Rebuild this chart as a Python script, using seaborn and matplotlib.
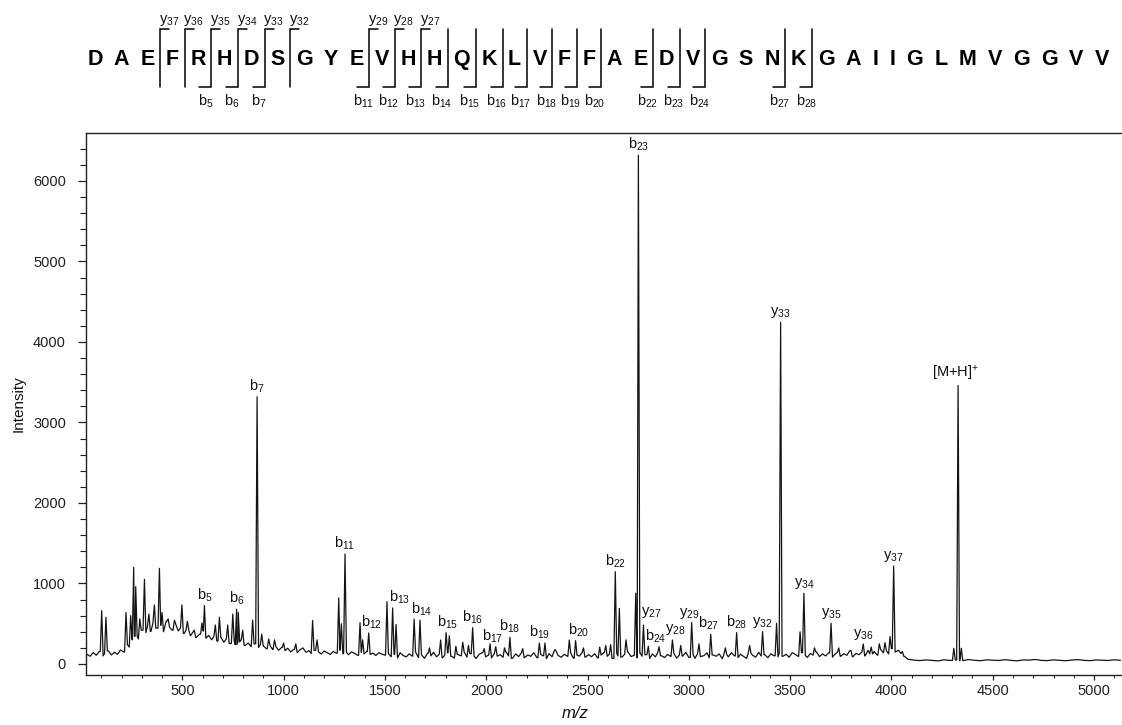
import numpy as np
import pandas as pd
import matplotlib
matplotlib.use("Agg")
import matplotlib.pyplot as plt
from matplotlib.ticker import MultipleLocator
from matplotlib.transforms import Affine2D
from matplotlib.lines import Line2D
import seaborn as sns

sns.set_theme(style="ticks")
plt.rcParams["font.family"] = ["Liberation Sans", "DejaVu Sans"]
plt.rcParams["mathtext.fontset"] = "custom"
plt.rcParams["mathtext.rm"] = "Liberation Sans"
plt.rcParams["mathtext.it"] = "Liberation Sans:italic"
plt.rcParams["mathtext.bf"] = "Liberation Sans:bold"

# ---------------------------------------------------------------- data
sequence = "DAEFRHDSGYEVHHQKLVFFAEDVGSNKGAIIGLMVGGVV"
b_ions = [5, 6, 7, 11, 12, 13, 14, 15, 16, 17, 18, 19, 20, 22, 23, 24, 27, 28]
y_ions = [37, 36, 35, 34, 33, 32, 29, 28, 27]

# annotated fragment peaks
ion_names = ["b5", "b6", "b7", "b11", "b12", "b13", "b14", "b15", "b16", "b17",
             "b18", "b19", "b20", "b22", "b23", "y27", "b24", "y28", "y29", "b27",
             "b28", "y32", "y33", "y34", "y35", "y36", "y37", "[M+H]+"]
ion_mz = [609, 768, 869, 1303, 1420, 1538, 1673, 1802, 1933, 2047,
          2117, 2262, 2441, 2637, 2751, 2776, 2853, 2919, 3014, 3108,
          3236, 3364, 3453, 3568, 3702, 3861, 4011, 4329]
ion_intensity = [725, 680, 3320, 1366, 385, 695, 545, 389, 451, 215,
                 331, 260, 290, 1147, 6320, 484, 215, 298, 513, 369,
                 389, 402, 4245, 878, 505, 248, 1217, 3460]

# unassigned peaks
other_mz = [102, 123, 222, 245, 260, 270, 290, 313, 335, 362, 387, 400, 430, 461,
            498, 525, 559, 597, 663, 683, 724, 749, 776, 798, 847, 892, 926, 955,
            1000, 1060, 1143, 1165, 1272, 1285, 1377, 1390, 1510, 1555, 1644, 1720,
            1775, 1818, 1850, 1884, 1912, 1990, 2019, 2090, 2180, 2290, 2340, 2410,
            2480, 2560, 2590, 2614, 2657, 2690, 2738, 2800, 2960, 3050, 3180, 3300,
            3433, 3549, 3620, 3740, 3800, 3900, 3940, 3968, 3993, 4054, 4308, 4345]
other_intensity = [662, 580, 640, 600, 1200, 960, 560, 1052, 620, 733, 1188, 640, 560, 545,
                   733, 530, 420, 510, 484, 580, 484, 620, 640, 420, 545, 370, 310, 300,
                   260, 250, 540, 300, 820, 500, 513, 300, 774, 490, 558, 200,
                   298, 350, 220, 270, 230, 190, 250, 200, 190, 260, 180, 298,
                   200, 210, 230, 240, 690, 300, 880, 220, 230, 250, 200, 230,
                   505, 400, 200, 200, 170, 210, 250, 265, 340, 155, 195, 195]

# baseline trace sampled every 15 m/z from 30 to 1005
base_a_start, base_a_step = 30, 15
base_a = [118, 96, 142, 108, 155, 100, 130, 162, 112, 145, 120,
          175, 150, 240, 210, 300, 345, 310,
          420, 390, 470, 405, 510, 445, 480, 400, 530, 455, 420, 490, 410,
          450, 380, 420, 350, 395, 330, 370, 410, 320, 355, 300, 345, 285, 330,
          270, 310, 255, 290, 240, 275, 300, 230, 260, 215, 250, 205, 240, 225,
          190, 230, 180, 215, 170, 205, 165]
# baseline trace sampled every 15 m/z from 1020 to 4065
base_b_start, base_b_step = 1020, 15
base_b = [195, 150, 180, 140, 175, 200, 145, 165, 130, 170,
          150, 125, 160, 140, 118, 155, 135, 170, 128, 145,
          115, 150, 132, 108, 145, 125, 155, 118, 135, 105,
          140, 122, 110,
          130, 92, 118, 75, 140, 105, 88, 125, 98, 150,
          82, 115, 70, 132, 100, 145, 90, 120, 78, 108,
          138, 95, 72, 118, 102, 150, 85, 128, 96, 68,
          120, 140, 88, 110, 75, 130, 98, 115, 82, 145,
          100, 70, 125, 92, 135, 80, 112, 95, 140, 78,
          118, 102, 66, 128, 90, 148, 105, 84, 120, 96,
          135, 72, 110, 98, 142, 86, 115,
          90, 128, 75, 110, 140, 95, 118, 70, 132, 100,
          85, 120, 150, 92, 108, 78, 135, 96, 115, 68,
          125, 88, 140, 102, 80, 118, 95, 130, 72, 110,
          98, 145, 82, 115, 70, 128, 92, 105, 138, 76,
          112, 96, 125, 65, 118, 88, 140, 100, 80, 122,
          94, 70, 130, 108, 85, 145, 98, 115, 78, 126,
          102, 88, 135, 96, 120, 84, 140,
          120, 95, 140, 105, 82, 130, 110, 150, 92, 125,
          100, 138, 85, 118, 145, 96, 128, 108, 160, 90,
          132, 115, 148, 100, 170, 125, 155, 110, 180, 140,
          165, 125, 190, 150, 170, 130, 95]
# baseline trace sampled every 30 m/z from 4080 to 5130
base_c_start, base_c_step = 4080, 30
base_c = [60, 48, 42, 50, 45, 38, 52, 44, 49, 41,
          55, 46, 40, 51, 47, 43, 53, 45, 39, 50,
          48, 56, 44, 42, 51, 46, 40, 49, 54, 45,
          41, 50, 47, 43, 52, 46]

x_ticks = [500, 1000, 1500, 2000, 2500, 3000, 3500, 4000, 4500, 5000]
y_ticks = [0, 1000, 2000, 3000, 4000, 5000, 6000]

# ---------------------------------------------------------------- trace
base_mz = np.concatenate([
    base_a_start + base_a_step * np.arange(len(base_a)),
    base_b_start + base_b_step * np.arange(len(base_b)),
    base_c_start + base_c_step * np.arange(len(base_c)),
]).astype(float)
base_int = np.array(base_a + base_b + base_c, dtype=float)

peak_mz = np.array(ion_mz + other_mz, dtype=float)
peak_int = np.array(ion_intensity + other_intensity, dtype=float)
HALF_WIDTH = 7.0

keep = np.array([np.all(np.abs(peak_mz - m) > HALF_WIDTH) for m in base_mz])


def foot_level(m):
    return base_int[np.abs(base_mz - m).argmin()]


xs = list(base_mz[keep])
ys = list(base_int[keep])
for m, h in zip(peak_mz, peak_int):
    xs += [m - HALF_WIDTH, m, m + HALF_WIDTH]
    ys += [foot_level(m - HALF_WIDTH), h, foot_level(m + HALF_WIDTH)]
order = np.argsort(np.array(xs), kind="stable")
spectrum = pd.DataFrame({"mz": np.array(xs)[order], "intensity": np.array(ys)[order]})

# ---------------------------------------------------------------- figure
W, H = 1122, 725
fig = plt.figure(figsize=(W / 100, H / 100), dpi=100, facecolor="white")
ax = fig.add_axes([86.5 / W, (H - 675) / H, (W - 86.5) / W, (675 - 133) / H])

sns.lineplot(data=spectrum, x="mz", y="intensity", ax=ax, sort=False,
             estimator=None, color="#141414", linewidth=0.9)

ax.set_xlim(27, 5138)
ax.set_ylim(-137, 6596)
ax.set_xticks(x_ticks)
ax.set_yticks(y_ticks)
ax.xaxis.set_minor_locator(MultipleLocator(100))
ax.yaxis.set_minor_locator(MultipleLocator(200))
ax.tick_params(axis="x", which="major", length=3.3, width=0.9, pad=3,
               labelsize=10.5, colors="#222222")
ax.tick_params(axis="x", which="minor", length=2.2, width=0.8, colors="#222222")
ax.tick_params(axis="y", which="major", length=5.8, width=0.9, pad=9,
               labelsize=10.5, colors="#222222")
ax.tick_params(axis="y", which="minor", length=4.5, width=0.8, colors="#222222")
for side in ["left", "bottom", "top"]:
    ax.spines[side].set_color("#222222")
    ax.spines[side].set_linewidth(1.0)
ax.spines["right"].set_visible(False)

ax.set_ylabel("Intensity", fontsize=11, color="#111111", va="center", ha="center")
ax.yaxis.set_label_coords((19 - 86.5) / (W - 86.5), 0.5)
ax.set_xlabel("m/z", fontsize=12, fontstyle="italic", color="#111111",
              va="center", ha="center")
ax.xaxis.set_label_coords((575 - 86.5) / (W - 86.5), (675 - 714) / (675 - 133))


def ion_text(name):
    if name.startswith("["):
        return "[M+H]$^{+}$"
    return f"{name[0]}$_{{{name[1:]}}}$"


label_dx = {"b12": 3, "b13": 7, "b14": 2, "b15": 2, "b17": -3, "b20": 3,
            "y27": 8, "b24": -3, "y28": 3, "y29": -2, "b27": -2, "[M+H]+": -3}
label_dy = {"y27": 3, "y28": 1}
for name, m, h in zip(ion_names, ion_mz, ion_intensity):
    ax.annotate(ion_text(name), xy=(m, h),
                xytext=(label_dx.get(name, 0), 2 + label_dy.get(name, 0)),
                textcoords="offset pixels", ha="center", va="bottom",
                fontsize=10.5, color="#111111")

# ---------------------------------------------------------------- sequence header
px = Affine2D().scale(1 / W, -1 / H).translate(0, 1) + fig.transFigure
letters = [fig.text(0, 65, aa, transform=px, fontsize=15.5, fontweight="bold",
                    ha="center", va="baseline", color="black") for aa in sequence]
renderer = fig.canvas.get_renderer()
widths = [t.get_window_extent(renderer).width for t in letters]
first_c, last_c = 95.0, 1102.0
n = len(sequence)
gap = ((last_c - first_c) - sum((widths[i] + widths[i + 1]) / 2 for i in range(n - 1))) / (n - 1)
centers = [first_c]
for i in range(1, n):
    centers.append(centers[-1] + (widths[i - 1] + widths[i]) / 2 + gap)
for t, c in zip(letters, centers):
    t.set_position((c, 65))

b_cuts = {k: k for k in b_ions}
y_cuts = {n - k: k for k in y_ions}
for cut in sorted(set(b_cuts) | set(y_cuts)):
    xb = centers[cut - 1] + widths[cut - 1] / 2 + gap / 2
    xs_b, ys_b = [xb, xb], [29, 87]
    if cut in y_cuts:
        xs_b = [xb + 9] + xs_b
        ys_b = [29] + ys_b
        fig.text(xb - 1.5, 22.5, ion_text(f"y{y_cuts[cut]}"), transform=px,
                 fontsize=10.5, ha="left", va="baseline", color="#111111")
    if cut in b_cuts:
        xs_b = xs_b + [xb - 12]
        ys_b = ys_b + [87]
        fig.text(xb - 6, 105.5, ion_text(f"b{b_cuts[cut]}"), transform=px,
                 fontsize=10.5, ha="center", va="baseline", color="#111111")
    fig.add_artist(Line2D(xs_b, ys_b, transform=px, color="black", linewidth=1.1,
                          solid_joinstyle="miter"))

fig.savefig("out.png", dpi=100, facecolor="white")
